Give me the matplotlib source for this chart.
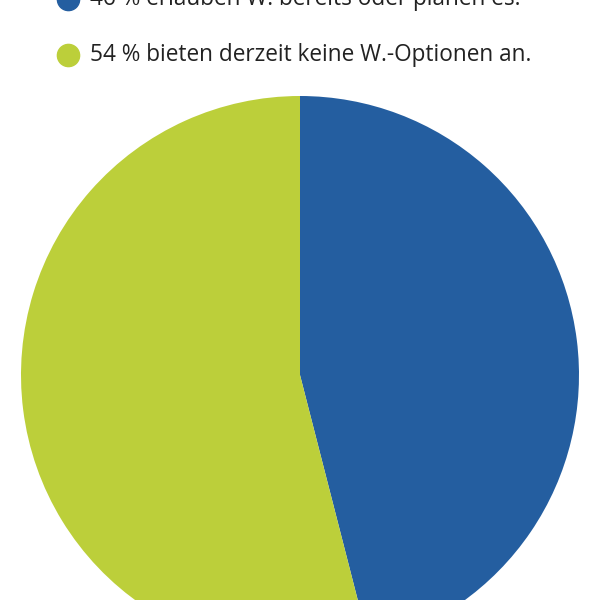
import matplotlib
matplotlib.use('Agg')
import matplotlib.pyplot as plt

# data
labels = ['46 % erlauben W. bereits oder planen es.',
          '54 % bieten derzeit keine W.-Optionen an.']
values = [46, 54]
colors = ['#245ea0', '#bccf3a']

plt.rcParams['font.family'] = ['Open Sans', 'DejaVu Sans']

fig = plt.figure(figsize=(6, 6), dpi=100, facecolor='white')
ax = fig.add_axes([0, 0, 1, 1])

# pie, clockwise from 12 o'clock, partly cut off at the bottom
ax.pie(values, colors=colors, startangle=90, counterclock=False,
       center=(300, 225), radius=279, frame=True,
       wedgeprops=dict(linewidth=0))
ax.set_xlim(0, 600)
ax.set_ylim(0, 600)
ax.set_aspect('equal')
ax.axis('off')

# legend lines at the top (first one cut off by the image edge)
ys = [601, 545]
for lab, col, y in zip(labels, colors, ys):
    ax.plot(68, y, 'o', color=col, markersize=16, clip_on=False)
    ax.text(90, y - 6, lab, fontsize=16.3, color='#222222',
            va='baseline', ha='left')

fig.savefig('out.png', dpi=100, facecolor='white')
